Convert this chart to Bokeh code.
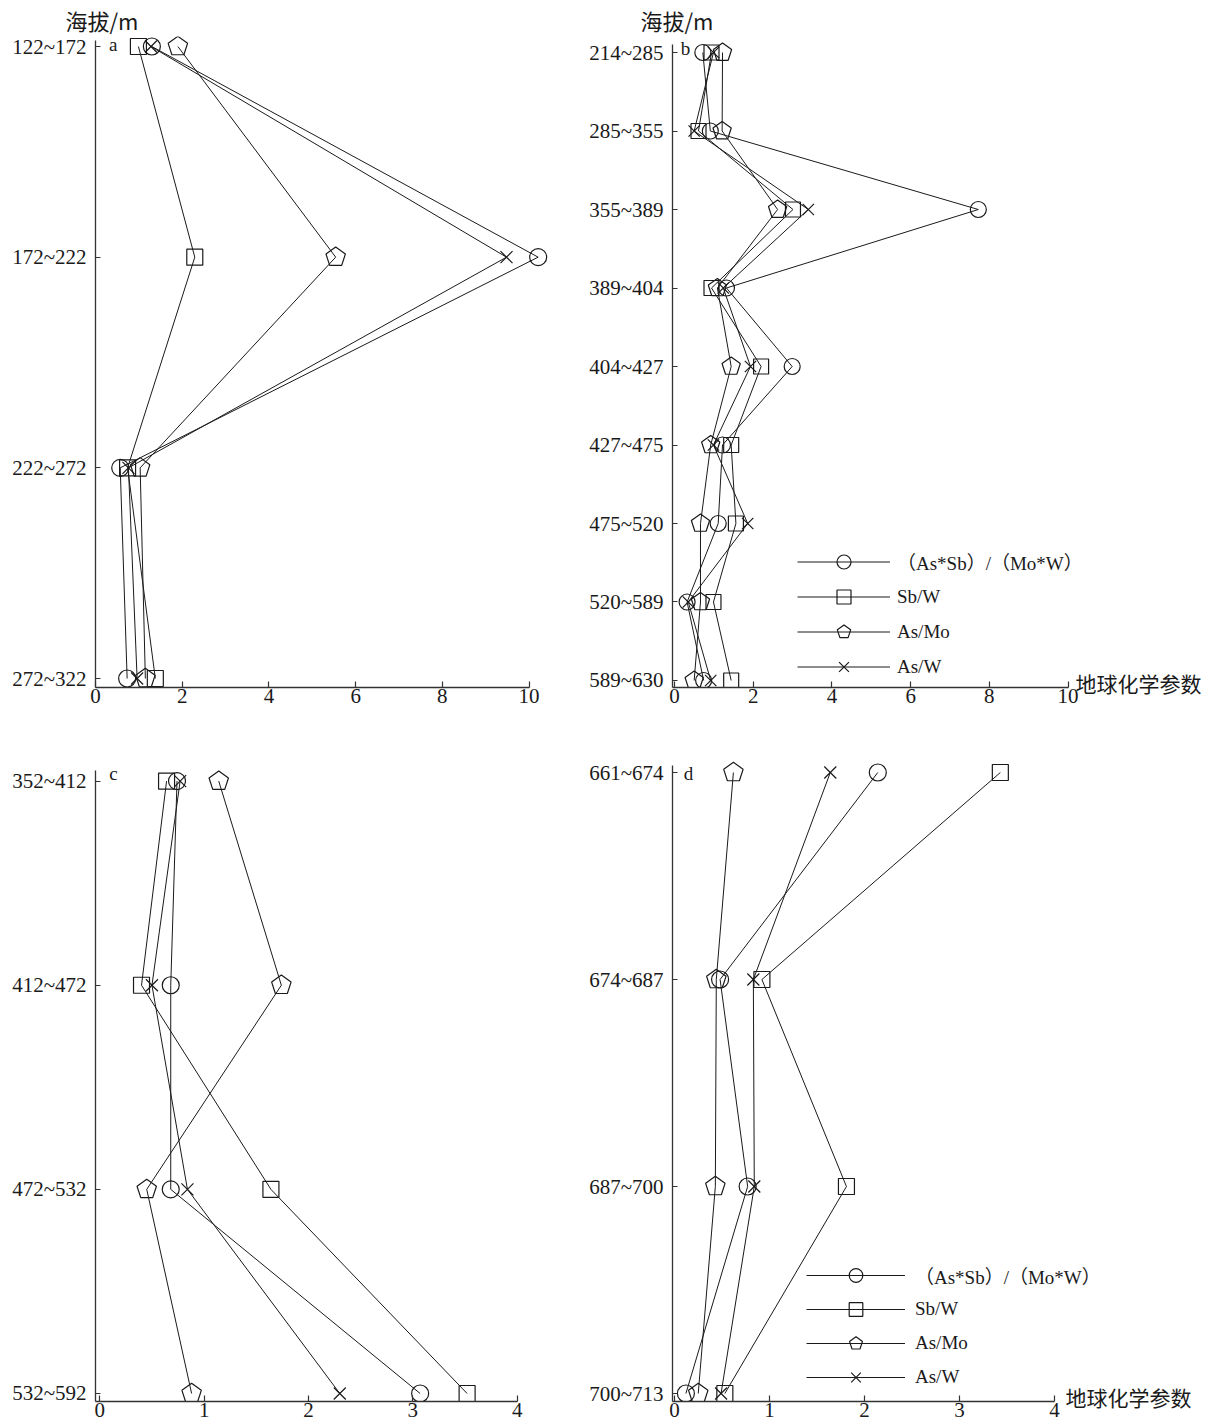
import numpy as np
from bokeh.plotting import figure
from bokeh.layouts import column, row
from bokeh.models import (FixedTicker, Range1d, Label, Legend, LegendItem,
                          ColumnDataSource)
from bokeh.embed import file_html
from bokeh.resources import INLINE

try:
    from bokeh.models import Ngon
    HAS_NGON = True
except Exception:
    HAS_NGON = False

# ---------------- data ----------------
series_labels = ["（As*Sb）/（Mo*W）", "Sb/W", "As/Mo", "As/W"]

a_cats = ["122~172", "172~222", "222~272", "272~322"]
a_ratio = [1.30, 10.21, 0.57, 0.73]
a_sbw = [0.99, 2.29, 0.74, 1.38]
a_asmo = [1.90, 5.54, 1.03, 1.15]
a_asw = [1.28, 9.48, 0.76, 0.96]

b_cats = ["214~285", "285~355", "355~389", "389~404", "404~427",
          "427~475", "475~520", "520~589", "589~630"]
b_ratio = [0.72, 0.91, 7.72, 1.32, 2.99, 1.22, 1.11, 0.32, 0.74]
b_sbw = [0.94, 0.61, 3.01, 0.94, 2.20, 1.44, 1.56, 0.99, 1.44]
b_asmo = [1.22, 1.21, 2.62, 1.09, 1.44, 0.92, 0.66, 0.66, 0.50]
b_asw = [0.99, 0.50, 3.40, 1.24, 1.93, 0.99, 1.86, 0.35, 0.92]

c_cats = ["352~412", "412~472", "472~532", "532~592"]
c_ratio = [0.74, 0.68, 0.68, 3.07]
c_sbw = [0.64, 0.40, 1.64, 3.52]
c_asmo = [1.14, 1.74, 0.45, 0.88]
c_asw = [0.77, 0.50, 0.84, 2.30]

d_cats = ["661~674", "674~687", "687~700", "700~713"]
d_ratio = [2.14, 0.48, 0.77, 0.12]
d_sbw = [3.43, 0.92, 1.81, 0.53]
d_asmo = [0.62, 0.44, 0.43, 0.25]
d_asw = [1.64, 0.83, 0.84, 0.49]

ticks_ab = [0, 2, 4, 6, 8, 10]
ticks_cd = [0, 1, 2, 3, 4]

y_title = "海拔/m"
x_title = "地球化学参数"

INK = "#1a1a1a"
SERIF = "Liberation Serif"
CJK = "Noto Sans CJK SC"


def make_panel(cats, vals, W, H, bl, br, bt, bb, xr, xticks, xb, yr, ybtop,
               letter, lxy, title_off=None, legend=None, xlabel=False, ms=17):
    n = len(cats)
    ys = [n - 1 - i for i in range(n)]
    p = figure(width=W, height=H, x_range=Range1d(*xr), y_range=Range1d(*yr),
               output_backend="svg", toolbar_location=None,
               min_border_left=bl, min_border_right=br,
               min_border_top=bt, min_border_bottom=bb)
    p.outline_line_color = None
    p.grid.visible = False

    for ax in (p.xaxis[0], p.yaxis[0]):
        ax.axis_line_color = "#333333"
        ax.axis_line_width = 1.3
        ax.major_tick_out = 0
        ax.major_tick_line_color = "#333333"
        ax.major_tick_line_width = 1.2
        ax.minor_tick_line_color = None
        ax.minor_tick_out = 0
        ax.minor_tick_in = 0
        ax.major_label_text_font = SERIF
        ax.major_label_text_font_size = "21px"
        ax.major_label_text_color = INK

    xa = p.xaxis[0]
    xa.ticker = FixedTicker(ticks=xticks)
    xa.bounds = xb
    xa.major_tick_in = 6
    xa.major_label_standoff = 1

    ya = p.yaxis[0]
    ya.ticker = FixedTicker(ticks=ys)
    ya.major_label_overrides = {y: c for y, c in zip(ys, cats)}
    ya.bounds = (yr[0], ybtop)
    ya.major_tick_in = 5
    ya.major_label_standoff = 9

    items = []
    markers = ["circle", "square", "pentagon", "x"]
    for lab, mk, v in zip(series_labels, markers, vals):
        src = ColumnDataSource(dict(x=v, y=ys))
        ln = p.line("x", "y", source=src, line_color=INK, line_width=1.0)
        if mk == "pentagon":
            if HAS_NGON:
                g = Ngon(x="x", y="y", radius=ms * 0.6, radius_units="screen",
                         n=5, angle=0, fill_color=None,
                         line_color=INK, line_width=1.2)
                mr = p.add_glyph(src, g)
            else:
                mr = p.scatter("x", "y", source=src, marker="hex", size=ms + 2,
                               fill_color=None, line_color=INK, line_width=1.2)
        else:
            sz = {"circle": ms, "square": ms - 1, "x": ms}[mk]
            mr = p.scatter("x", "y", source=src, marker=mk, size=sz,
                           fill_color=None, line_color=INK, line_width=1.2)
        items.append(LegendItem(label=lab, renderers=[ln, mr]))

    p.add_layout(Label(x=lxy[0], y=lxy[1], text=letter, text_font=SERIF,
                       text_font_size="19px", text_align="center",
                       text_baseline="middle", text_color=INK))

    if title_off is not None:
        p.title.text = y_title
        p.title.align = "left"
        p.title.offset = title_off
        p.title.standoff = 2
        p.title.text_line_height = 1.0
        p.title.text_font = CJK
        p.title.text_font_size = "22px"
        p.title.text_font_style = "normal"
        p.title.text_color = INK

    if xlabel:
        xa.axis_label = x_title
        xa.axis_label_text_font = CJK
        xa.axis_label_text_font_size = "21px"
        xa.axis_label_text_font_style = "normal"
        xa.axis_label_text_color = INK
        xa.axis_label_standoff = -38
        try:
            xa.axis_label_align = "end"
        except Exception:
            pass

    if legend is not None:
        loc, gw, gh, stand = legend
        lg = Legend(items=items, location=loc, orientation="vertical",
                    glyph_width=gw, glyph_height=gh, label_height=gh,
                    spacing=0, label_standoff=stand, padding=0, margin=0,
                    border_line_color=None, background_fill_alpha=0,
                    label_text_font="'Liberation Serif', 'Noto Sans CJK SC'",
                    label_text_font_size="19px", label_text_color=INK)
        p.add_layout(lg)
    return p


pa = make_panel(a_cats, [a_ratio, a_sbw, a_asmo, a_asw], 583, 713, 95, 28, 36, 26,
                (0, 10.61), ticks_ab, (0, 10), (-0.0427, 3.0475), 3.0285,
                "a", (0.41, 3.01), title_off=-30, ms=17)

# frame of b: x 672..1138 (label centred on the frame's right end)
pb = make_panel(b_cats, [b_ratio, b_sbw, b_asmo, b_asw], 628, 713, 89, 73, 36, 26,
                (-0.051, 11.79), ticks_ab, (-0.051, 10), (-0.0892, 8.204), 8.102,
                "b", (0.28, 8.05), title_off=-32,
                legend=((125, 3), 93, 35, 7), xlabel=True, ms=16)

pc = make_panel(c_cats, [c_ratio, c_sbw, c_asmo, c_asw], 583, 714, 95, 28, 47, 26,
                (-0.041, 4.367), ticks_cd, (-0.041, 4), (-0.0392, 3.101), 3.052,
                "c", (0.131, 3.038), ms=17)

# frame of d: x 672..1128
pd_ = make_panel(d_cats, [d_ratio, d_sbw, d_asmo, d_asw], 628, 714, 89, 83, 47, 26,
                 (-0.021, 4.779), ticks_cd, (-0.021, 4), (-0.0386, 3.058), 3.034,
                 "d", (0.147, 2.995),
                 legend=((134, 7), 99, 34, 10), xlabel=True, ms=17)

layout = column(row(pa, pb), row(pc, pd_))
open("out.html", "w").write(file_html(layout, INLINE))
